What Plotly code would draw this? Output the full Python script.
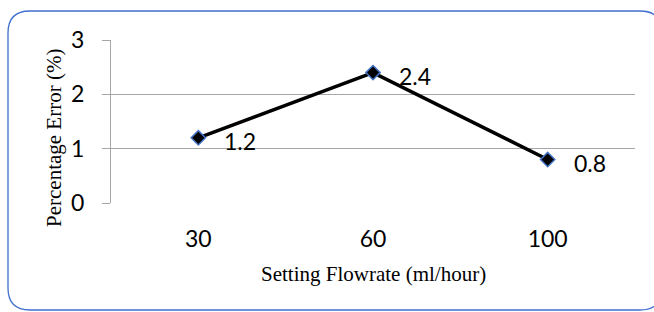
import plotly.graph_objects as go

categories = ["30", "60", "100"]
errors = [1.2, 2.4, 0.8]
labels = ["1.2", "2.4", "0.8"]
y_ticks = [0, 1, 2, 3]

W, H = 654, 312
L, R, T, B = 111, 19, 40, 109
pw, ph = W - L - R, H - T - B

def px(x):
    return (x - L) / pw

def py(y):
    return (H - B - y) / ph

num_font = dict(family="Lato, Open Sans, sans-serif", size=23, color="#000000")
serif_font = dict(family="Liberation Serif, Times New Roman, serif", size=21, color="#000000")

fig = go.Figure()
fig.add_trace(go.Scatter(
    x=categories, y=errors, mode="lines+markers",
    line=dict(color="#000000", width=3.5),
    marker=dict(symbol="diamond", size=11, color="#000000",
                line=dict(color="#4472C4", width=1.5)),
    cliponaxis=False, showlegend=False,
))

# rounded border
x0, y0, x1, y1, r = 8, 11, 662, 310, 22
path = (f"M {px(x0+r)},{py(y0)} L {px(x1-r)},{py(y0)} "
        f"Q {px(x1)},{py(y0)} {px(x1)},{py(y0+r)} L {px(x1)},{py(y1-r)} "
        f"Q {px(x1)},{py(y1)} {px(x1-r)},{py(y1)} L {px(x0+r)},{py(y1)} "
        f"Q {px(x0)},{py(y1)} {px(x0)},{py(y1-r)} L {px(x0)},{py(y0+r)} "
        f"Q {px(x0)},{py(y0)} {px(x0+r)},{py(y0)} Z")
fig.add_shape(type="path", xref="paper", yref="paper", path=path,
              line=dict(color="#3F6FD0", width=1.3), layer="below")

annotations = [
    dict(text=t, x=i, y=v, xref="x", yref="y", showarrow=False,
         xanchor="left", yanchor="middle", xshift=24, yshift=-3, font=num_font)
    for i, (v, t) in enumerate(zip(errors, labels))
]
annotations += [
    dict(text="Setting Flowrate (ml/hour)", xref="paper", yref="paper",
         x=px(373), y=py(274), xanchor="center", yanchor="middle",
         showarrow=False, font=serif_font),
    dict(text="Percentage Error (%)", xref="paper", yref="paper",
         x=px(54), y=py(138), xanchor="center", yanchor="middle",
         showarrow=False, textangle=-90, font=serif_font),
]

fig.update_layout(
    width=W, height=H,
    margin=dict(l=L, r=R, t=T, b=B),
    paper_bgcolor="white", plot_bgcolor="white",
    xaxis=dict(type="category", range=[-0.5, 2.5], showgrid=False,
               showline=False, ticks="", zeroline=False,
               tickfont=num_font, ticklabelstandoff=20),
    yaxis=dict(range=[0, 3], tickvals=y_ticks, showgrid=True,
               gridcolor="#A6A6A6", gridwidth=1, zeroline=False,
               showline=True, linecolor="#A6A6A6", linewidth=1,
               ticks="outside", ticklen=8, tickcolor="#A6A6A6",
               tickfont=num_font, ticklabelstandoff=13),
    annotations=annotations,
)

fig.write_html("out.html", config={"displayModeBar": False},
               post_script="document.body.style.margin='0';document.body.style.padding='0';")
